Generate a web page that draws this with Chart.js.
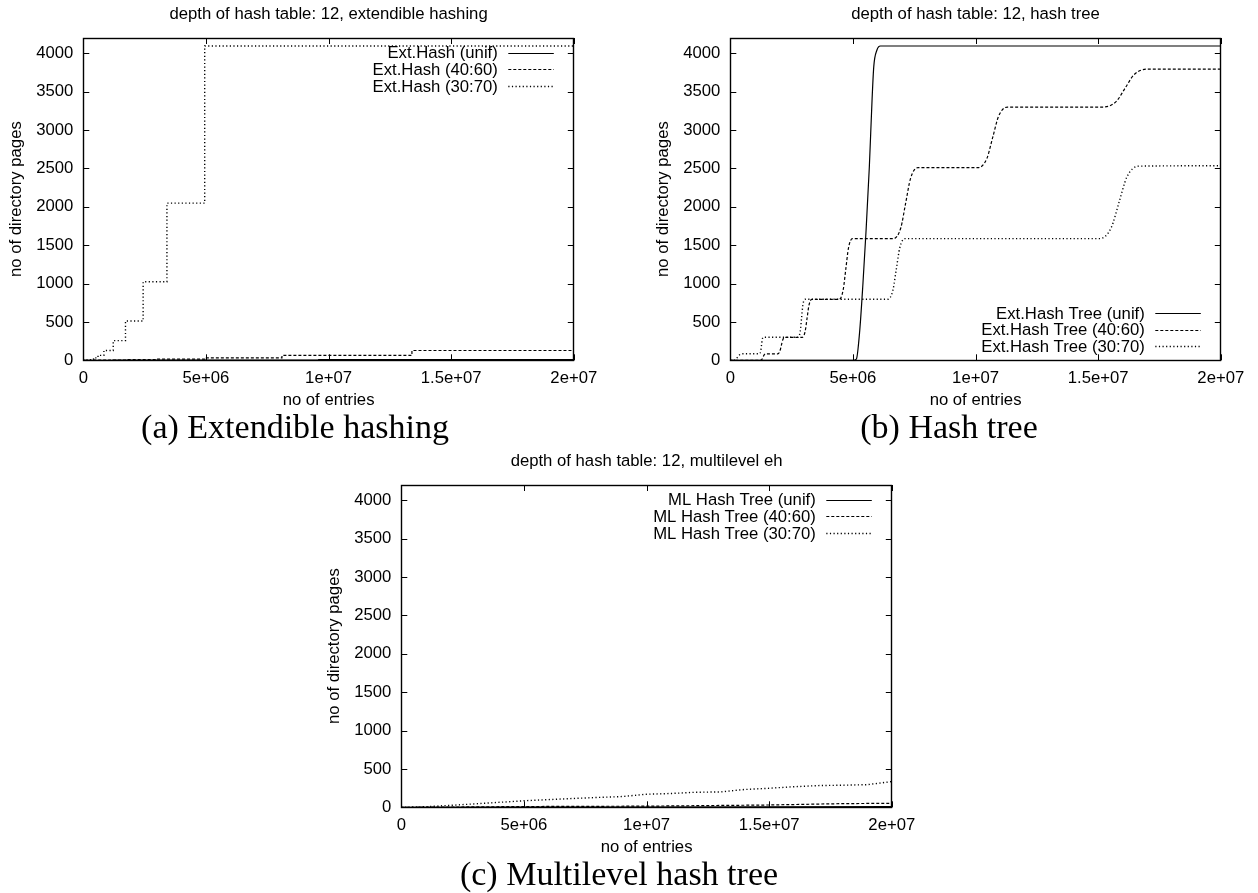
<!DOCTYPE html>
<html><head><meta charset="utf-8">
<script src="https://cdn.jsdelivr.net/npm/chart.js@4.4.1/dist/chart.umd.min.js"></script>
<style>
html,body{margin:0;padding:0;background:#fff;}
body{width:1258px;height:893px;position:relative;overflow:hidden;}
canvas{position:absolute;}
.cap{position:absolute;font-family:"Liberation Serif","DejaVu Serif",serif;font-size:34px;color:#000;white-space:nowrap;transform:translateX(-50%);line-height:1;}
</style></head><body>
<canvas id="ca" width="620" height="410" style="left:0px;top:0px"></canvas>
<canvas id="cb" width="611" height="410" style="left:647px;top:0px"></canvas>
<canvas id="cc" width="620" height="410" style="left:318px;top:447px"></canvas>
<div class="cap" style="left:295px;top:410px">(a) Extendible hashing</div>
<div class="cap" style="left:949px;top:410px">(b) Hash tree</div>
<div class="cap" style="left:619px;top:857px">(c) Multilevel hash tree</div>
<script>
// ---- axis ticks ----
const xTickValues = [0, 5e6, 1e7, 1.5e7, 2e7];
const xTickLabels = ['0', '5e+06', '1e+07', '1.5e+07', '2e+07'];
const yTickValues = [0, 500, 1000, 1500, 2000, 2500, 3000, 3500, 4000];
const yTickLabels = ['0', '500', '1000', '1500', '2000', '2500', '3000', '3500', '4000'];

// ---- panel (a): extendible hashing ----
const extUnifX = [0, 1.2e6, 2.4e6, 4.8e6, 9.6e6, 2e7];
const extUnifY = [0, 1, 2, 4, 8, 8];
const ext4060X = [0, 0.42e6, 0.68e6, 1.12e6, 1.83e6, 3.0e6, 4.95e6, 8.1e6, 13.4e6, 2e7];
const ext4060Y = [0, 1, 2, 4, 8, 16, 32, 64, 128, 128];
const ext3070X = [0, 0.07e6, 0.1e6, 0.15e6, 0.21e6, 0.3e6, 0.42e6, 0.6e6, 0.84e6, 1.22e6, 1.72e6, 2.44e6, 3.41e6, 4.95e6, 2e7];
const ext3070Y = [0, 1, 2, 4, 8, 16, 32, 64, 128, 256, 512, 1024, 2048, 4096, 4096];

// ---- panel (b): hash tree ----
const treeUnifX = [0, 5.0e6, 5.14e6, 5.27e6, 5.41e6, 5.53e6, 5.67e6, 5.78e6, 5.85e6, 5.98e6, 6.12e6, 2e7];
const treeUnifY = [0, 0, 15, 357, 1007, 1658, 2525, 3393, 3827, 4044, 4096, 4096];
const tree4060X = [0, 1.22e6, 1.29e6, 1.335e6, 1.38e6, 1.45e6, 1.94e6, 2.02e6, 2.08e6, 2.14e6, 2.22e6,
  2.94e6, 3.05e6, 3.13e6, 3.21e6, 3.32e6, 4.44e6, 4.60e6, 4.71e6, 4.82e6, 4.98e6,
  6.65e6, 6.95e6, 7.15e6, 7.35e6, 7.65e6, 1.01e7, 1.046e7, 1.07e7, 1.094e7, 1.13e7,
  1.52e7, 1.574e7, 1.61e7, 1.646e7, 1.70e7, 2e7];
const tree4060Y = [0, 0, 13, 42, 72, 85, 85, 117, 192, 268, 300,
  300, 374, 548, 721, 795, 795, 914, 1190, 1466, 1585,
  1585, 1724, 2048, 2371, 2510, 2510, 2629, 2905, 3181, 3300,
  3300, 3374, 3548, 3721, 3795, 3795];
const tree3070X = [0, 0.1e6, 0.22e6, 0.3e6, 0.38e6, 0.5e6, 1.19e6, 1.24e6, 1.27e6, 1.30e6, 1.35e6,
  2.76e6, 2.85e6, 2.905e6, 2.96e6, 3.05e6, 6.43e6, 6.63e6, 6.77e6, 6.91e6, 7.11e6,
  1.505e7, 1.553e7, 1.585e7, 1.617e7, 1.665e7, 2e7];
const tree3070Y = [0, 0, 13, 42, 72, 85, 85, 117, 192, 268, 300,
  300, 374, 548, 721, 795, 795, 914, 1190, 1466, 1585,
  1585, 1727, 2058, 2388, 2530, 2535];

// ---- panel (c): multilevel hash tree ----
const mlUnifX = [0, 5e6, 1e7, 1.5e7, 2e7];
const mlUnifY = [0, 2, 4, 6, 8];
const ml4060X = [0, 2e6, 5e6, 1e7, 1.5e7, 1.8e7, 2e7];
const ml4060Y = [0, 3, 10, 15, 30, 48, 52];
const ml3070X = [0, 1e6, 2e6, 3e6, 4e6, 5e6, 6e6, 7e6, 8e6, 9e6, 1e7, 1.1e7, 1.2e7, 1.3e7, 1.4e7, 1.5e7, 1.6e7, 1.7e7, 1.8e7, 1.9e7, 2e7];
const ml3070Y = [0, 8, 25, 45, 65, 85, 100, 115, 128, 140, 170, 180, 196, 200, 232, 248, 268, 283, 288, 295, 335];

const titles = ['depth of hash table: 12, extendible hashing', 'depth of hash table: 12, hash tree', 'depth of hash table: 12, multilevel eh'];
const labelsA = ['Ext.Hash (unif)', 'Ext.Hash (40:60)', 'Ext.Hash (30:70)'];
const labelsB = ['Ext.Hash Tree (unif)', 'Ext.Hash Tree (40:60)', 'Ext.Hash Tree (30:70)'];
const labelsC = ['ML Hash Tree (unif)', 'ML Hash Tree (40:60)', 'ML Hash Tree (30:70)'];

const FONT = "'Liberation Sans', Arial, sans-serif";
const FS = 16.7;
Chart.defaults.font.family = FONT;
Chart.defaults.color = '#000';

const dashes = [[], [3, 2], [1.2, 2.4]];
const widths = [1.2, 1.2, 1.4];

function pts(xs, ys) { return xs.map((x, i) => ({x: x, y: ys[i]})); }

const decor = {
  id: 'decor',
  afterDatasetsDraw(chart) {
    const o = chart.options.plugins.decor;
    const {ctx, chartArea: a, scales: {x, y}} = chart;
    ctx.save();
    ctx.strokeStyle = '#000';
    ctx.lineWidth = 1;
    ctx.setLineDash([]);
    ctx.beginPath();
    const T = 6;
    x.ticks.forEach(t => {
      const px = Math.round(x.getPixelForValue(t.value)) + 0.5;
      ctx.moveTo(px, a.bottom); ctx.lineTo(px, a.bottom - T);
      ctx.moveTo(px, a.top); ctx.lineTo(px, a.top + T);
    });
    y.ticks.forEach(t => {
      const py = Math.round(y.getPixelForValue(t.value)) + 0.5;
      ctx.moveTo(a.left, py); ctx.lineTo(a.left + T, py);
      ctx.moveTo(a.right, py); ctx.lineTo(a.right - T, py);
    });
    ctx.stroke();
    ctx.lineWidth = 1.4;
    ctx.strokeRect(Math.round(a.left) + 0.5, Math.round(a.top) + 0.5, Math.round(a.right - a.left), Math.round(a.bottom - a.top));
    // legend
    ctx.font = FS + 'px ' + FONT;
    ctx.fillStyle = '#000';
    ctx.textAlign = 'right';
    ctx.textBaseline = 'middle';
    chart.data.datasets.forEach((ds, i) => {
      const yy = o.legendTop ? a.top + 14.5 + i * 16.7 : a.bottom - 47.4 + i * 16.7;
      ctx.fillText(ds.label, a.right - 76, yy + 1);
      ctx.beginPath();
      ctx.lineWidth = ds.borderWidth;
      ctx.setLineDash(ds.borderDash || []);
      ctx.moveTo(a.right - 65.5, Math.round(yy) + 0.5);
      ctx.lineTo(a.right - 20, Math.round(yy) + 0.5);
      ctx.stroke();
    });
    ctx.setLineDash([]);
    // title
    ctx.textAlign = 'center';
    ctx.fillText(o.title, (a.left + a.right) / 2, 14);
    ctx.restore();
  }
};

function makeChart(id, title, labels, series, legendTop, mode) {
  const canvas = document.getElementById(id);
  const W = canvas.width, H = canvas.height;
  const datasets = series.map((s, i) => ({
    label: labels[i],
    data: pts(s[0], s[1]),
    borderColor: '#000',
    borderWidth: widths[i],
    borderDash: dashes[i],
    pointRadius: 0,
    fill: false,
    stepped: mode === 'step' ? true : false,
    cubicInterpolationMode: mode === 'smooth' ? 'monotone' : 'default',
    tension: 0
  }));
  return new Chart(canvas, {
    type: 'line',
    data: {datasets: datasets},
    plugins: [decor],
    options: {
      responsive: false,
      animation: false,
      devicePixelRatio: 1,
      events: [],
      layout: {padding: {left: 0, top: 38, right: W - 83.3 - 490.5, bottom: 0}},
      plugins: {
        legend: {display: false},
        tooltip: {enabled: false},
        title: {display: false},
        decor: {title: title, legendTop: legendTop}
      },
      scales: {
        x: {
          type: 'linear', min: 0, max: 2e7,
          afterBuildTicks: s => { s.ticks = xTickValues.map(v => ({value: v})); },
          afterFit: s => { s.height = H - 360.3; },
          grid: {display: false, drawTicks: false},
          border: {display: false},
          ticks: {autoSkip: false, maxRotation: 0, padding: 8, font: {size: FS},
                  callback: (v, i) => xTickLabels[i]},
          title: {display: true, text: 'no of entries', font: {size: FS}, padding: {top: 0, bottom: 0}}
        },
        y: {
          type: 'linear', min: 0, max: 4200,
          afterBuildTicks: s => { s.ticks = yTickValues.map(v => ({value: v})); },
          afterFit: s => { s.width = 83.3; },
          grid: {display: false, drawTicks: false},
          border: {display: false},
          ticks: {autoSkip: false, padding: 10, font: {size: FS},
                  callback: (v, i) => yTickLabels[i]},
          title: {display: true, text: 'no of directory pages', font: {size: FS}, padding: {top: 6.7, bottom: 0}}
        }
      }
    }
  });
}

makeChart('ca', titles[0], labelsA, [[extUnifX, extUnifY], [ext4060X, ext4060Y], [ext3070X, ext3070Y]], true, 'step');
makeChart('cb', titles[1], labelsB, [[treeUnifX, treeUnifY], [tree4060X, tree4060Y], [tree3070X, tree3070Y]], false, 'smooth');
makeChart('cc', titles[2], labelsC, [[mlUnifX, mlUnifY], [ml4060X, ml4060Y], [ml3070X, ml3070Y]], true, 'line');
</script>
</body></html>
